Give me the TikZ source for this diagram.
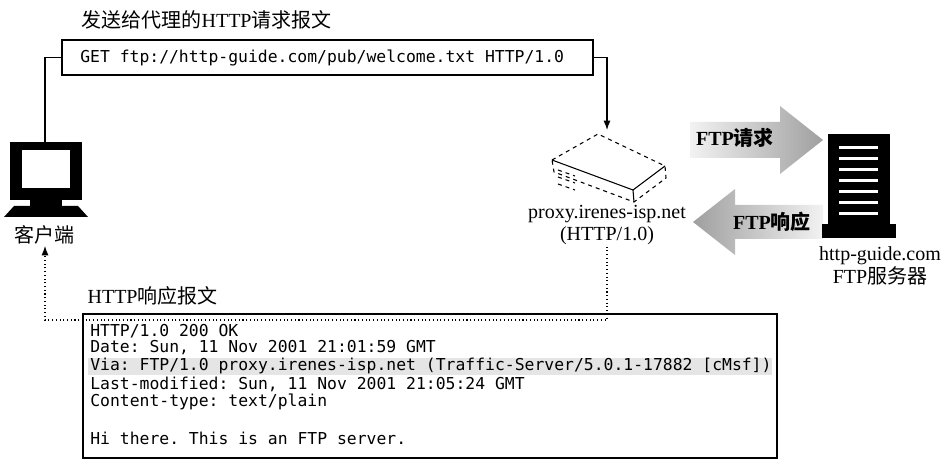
\documentclass[tikz,border=0pt]{standalone}
\usepackage{fontspec}
\setmainfont{Liberation Serif}
\setmonofont{DejaVu Sans Mono}
\newfontfamily\cjk{Noto Sans CJK SC}
\usetikzlibrary{positioning,arrows.meta}

\tikzset{
  msgbox/.style={draw,thick,inner sep=0pt},
  codetext/.style={font=\ttfamily\fontsize{12.3}{14}\selectfont,anchor=west,inner sep=0pt},
  caption/.style={font=\fontsize{15}{17}\selectfont,inner sep=1pt},
  link/.style={thick},
  dotlink/.style={thick,dotted}
}

\begin{document}
\begin{tikzpicture}[x=0.75pt,y=-0.75pt]
\useasboundingbox (0,0) rectangle (943,470);

% request message
\node[caption,anchor=west] (reqlabel) at (80,20) {{\cjk 发送给代理的}HTTP{\cjk 请求报文}};
\draw[msgbox] (62,40) rectangle (593,75);
\node[codetext] (req) at (80,57.5) {GET ftp://http-guide.com/pub/welcome.txt HTTP/1.0};

% client
\fill (10,142) rectangle (82,200);
\fill[white] (22,150) rectangle (70,188);
\fill (30,200) rectangle (62,206);
\fill (14,206) -- (78,206) -- (88,217) -- (4,217) -- cycle;
\coordinate (clienttop) at (45,142);
\node[caption] (client) at (45,235) {\cjk 客户端};

% proxy
\begin{scope}[dashed,thick]
\draw (552,160) -- (598,134) -- (665,166) -- (666,178) -- (634,202) -- (554,172) -- cycle;
\draw (558,170) -- (575,176) (558,177) -- (575,183) (558,184) -- (575,190);
\end{scope}
\draw[thick] (552,160) -- (633,190) -- (665,166);
\draw[thick] (633,190) -- (634,202);
\coordinate (proxytop) at (607,130);
\node[caption,align=center] (proxy) at (607,225) {proxy.irenes-isp.net\\(HTTP/1.0)};

% ftp arrows
\shade[left color=gray!10,right color=gray!75]
  (690,122) -- (780,122) -- (780,106) -- (823,140) -- (780,174) -- (780,158) -- (690,158) -- cycle;
\node[caption,font=\bfseries\fontsize{15}{17}\selectfont] (ftpreq) at (735,138) {FTP{\cjk 请求}};
\shade[left color=gray!75,right color=gray!10]
  (823,205) -- (735,205) -- (735,189) -- (693,222) -- (735,255) -- (735,239) -- (823,239) -- cycle;
\node[caption,font=\bfseries\fontsize{15}{17}\selectfont] (ftpresp) at (772,222) {FTP{\cjk 响应}};

% server
\fill (828,134) rectangle (890,224);
\fill (822,224) rectangle (896,238);
\foreach \y in {146,157,...,212} {
  \fill[white] (839,\y) rectangle (878,\y+3);
}
\node[caption,align=center] (server) at (880,266) {http-guide.com\\FTP{\cjk 服务器}};

% response message
\node[caption,anchor=west] (resplabel) at (86,296) {HTTP{\cjk 响应报文}};
\draw[msgbox] (83,314) rectangle (777,458);
\fill[gray!20] (88,358) rectangle (772,375);
\node[codetext] (r1) at (90,331) {HTTP/1.0 200 OK};
\node[codetext] (r2) at (90,348) {Date: Sun, 11 Nov 2001 21:01:59 GMT};
\node[codetext] (r3) at (90,366) {Via: FTP/1.0 proxy.irenes-isp.net (Traffic-Server/5.0.1-17882 [cMsf])};
\node[codetext] (r4) at (90,384) {Last-modified: Sun, 11 Nov 2001 21:05:24 GMT};
\node[codetext] (r5) at (90,402) {Content-type: text/plain};
\node[codetext] (r6) at (90,438) {Hi there. This is an FTP server.};

% connectors
\draw[link] (62,57.5) -- (45,57.5) -- (clienttop);
\draw[link,-{Latex[length=7pt]}] (593,57.5) -- (607,57.5) -- (proxytop);
\draw[dotlink,-{Latex[length=7pt]}] (proxy.south) -- (607,320) -- (45,320) -- (client.south);
\end{tikzpicture}
\end{document}
